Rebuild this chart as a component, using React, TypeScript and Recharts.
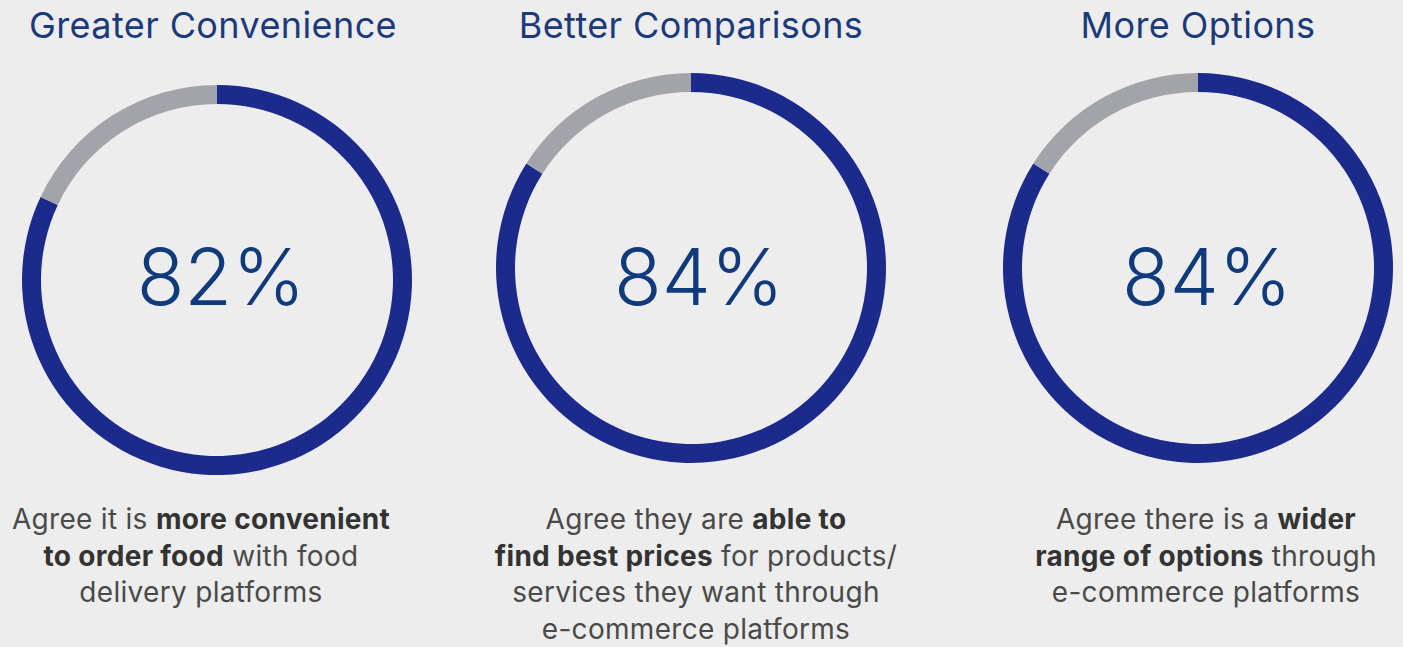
import React from 'react';
import { PieChart, Pie, Cell } from 'recharts';

const titles = ['Greater Convenience', 'Better Comparisons', 'More Options'];
const agreeValues = [82, 84, 84];
const descriptionLines = [
    ['Agree it is |more convenient|', '|to order food| with food', 'delivery platforms'],
    ['Agree they are |able to|', '|find best prices| for products/', 'services they want through', 'e-commerce platforms'],
    ['Agree there is a |wider|', '|range of options| through', 'e-commerce platforms'],
];

const COLORS = ['#1c2a8c', '#a3a3aa'];
const BG = '#ededed';

// panel layout (px)
const centers = [
    { cx: 217, cy: 280, pctX: 221, pctY: 277, title: 213, text: 201 },
    { cx: 691, cy: 268, pctX: 699, pctY: 277, title: 691, text: 696 },
    { cx: 1198, cy: 268, pctX: 1207, pctY: 277, title: 1198, text: 1206 },
];

const renderLine = (line: string, i: number) => {
    const parts = line.split('|');
    return (
        <div key={i}>
            {parts.map((p, j) => (j % 2 === 1 ? <b key={j} style={{ fontWeight: 700, color: '#333' }}>{p}</b> : <span key={j}>{p}</span>))}
        </div>
    );
};

const App: React.FC = () => {
    return (
        <div style={{ position: 'absolute', left: 0, top: 0, width: 1403, height: 647, background: BG, fontFamily: 'Inter, sans-serif', overflow: 'hidden' }}>
            <PieChart width={1403} height={647} margin={{ top: 0, right: 0, bottom: 0, left: 0 }} style={{ position: 'absolute', left: 0, top: 0 }}>
                {agreeValues.map((v, i) => {
                    const data = [
                        { name: 'Agree', value: v },
                        { name: 'Other', value: 100 - v },
                    ];
                    return (
                        <Pie
                            key={titles[i]}
                            data={data}
                            dataKey="value"
                            nameKey="name"
                            cx={centers[i].cx}
                            cy={centers[i].cy}
                            innerRadius={176}
                            outerRadius={195}
                            startAngle={90}
                            endAngle={-270}
                            stroke="none"
                            isAnimationActive={false}
                        >
                            {data.map((d, k) => <Cell key={`cell-${k}`} fill={COLORS[k]} />)}
                        </Pie>
                    );
                })}
            </PieChart>

            {agreeValues.map((v, i) => (
                <div key={`pct-${i}`} style={{ position: 'absolute', left: centers[i].pctX - 150, width: 300, top: centers[i].pctY - 50, height: 100, lineHeight: '100px', textAlign: 'center', fontSize: 78, fontWeight: 300, color: '#0f3a7c' }}>
                    {v}%
                </div>
            ))}

            {titles.map((t, i) => (
                <div key={t} style={{ position: 'absolute', left: centers[i].title - 250, width: 500, top: 3, textAlign: 'center', fontSize: 36, color: '#1b3a7c', lineHeight: '44px', letterSpacing: 0.4 }}>
                    {t}
                </div>
            ))}

            {descriptionLines.map((lines, i) => (
                <div key={`desc-${i}`} style={{ position: 'absolute', left: centers[i].text - 250, width: 500, top: 501, textAlign: 'center', fontSize: 28, color: '#4a4a4a', lineHeight: '36.5px', letterSpacing: 0.3 }}>
                    {lines.map(renderLine)}
                </div>
            ))}
        </div>
    );
};

export default App;
